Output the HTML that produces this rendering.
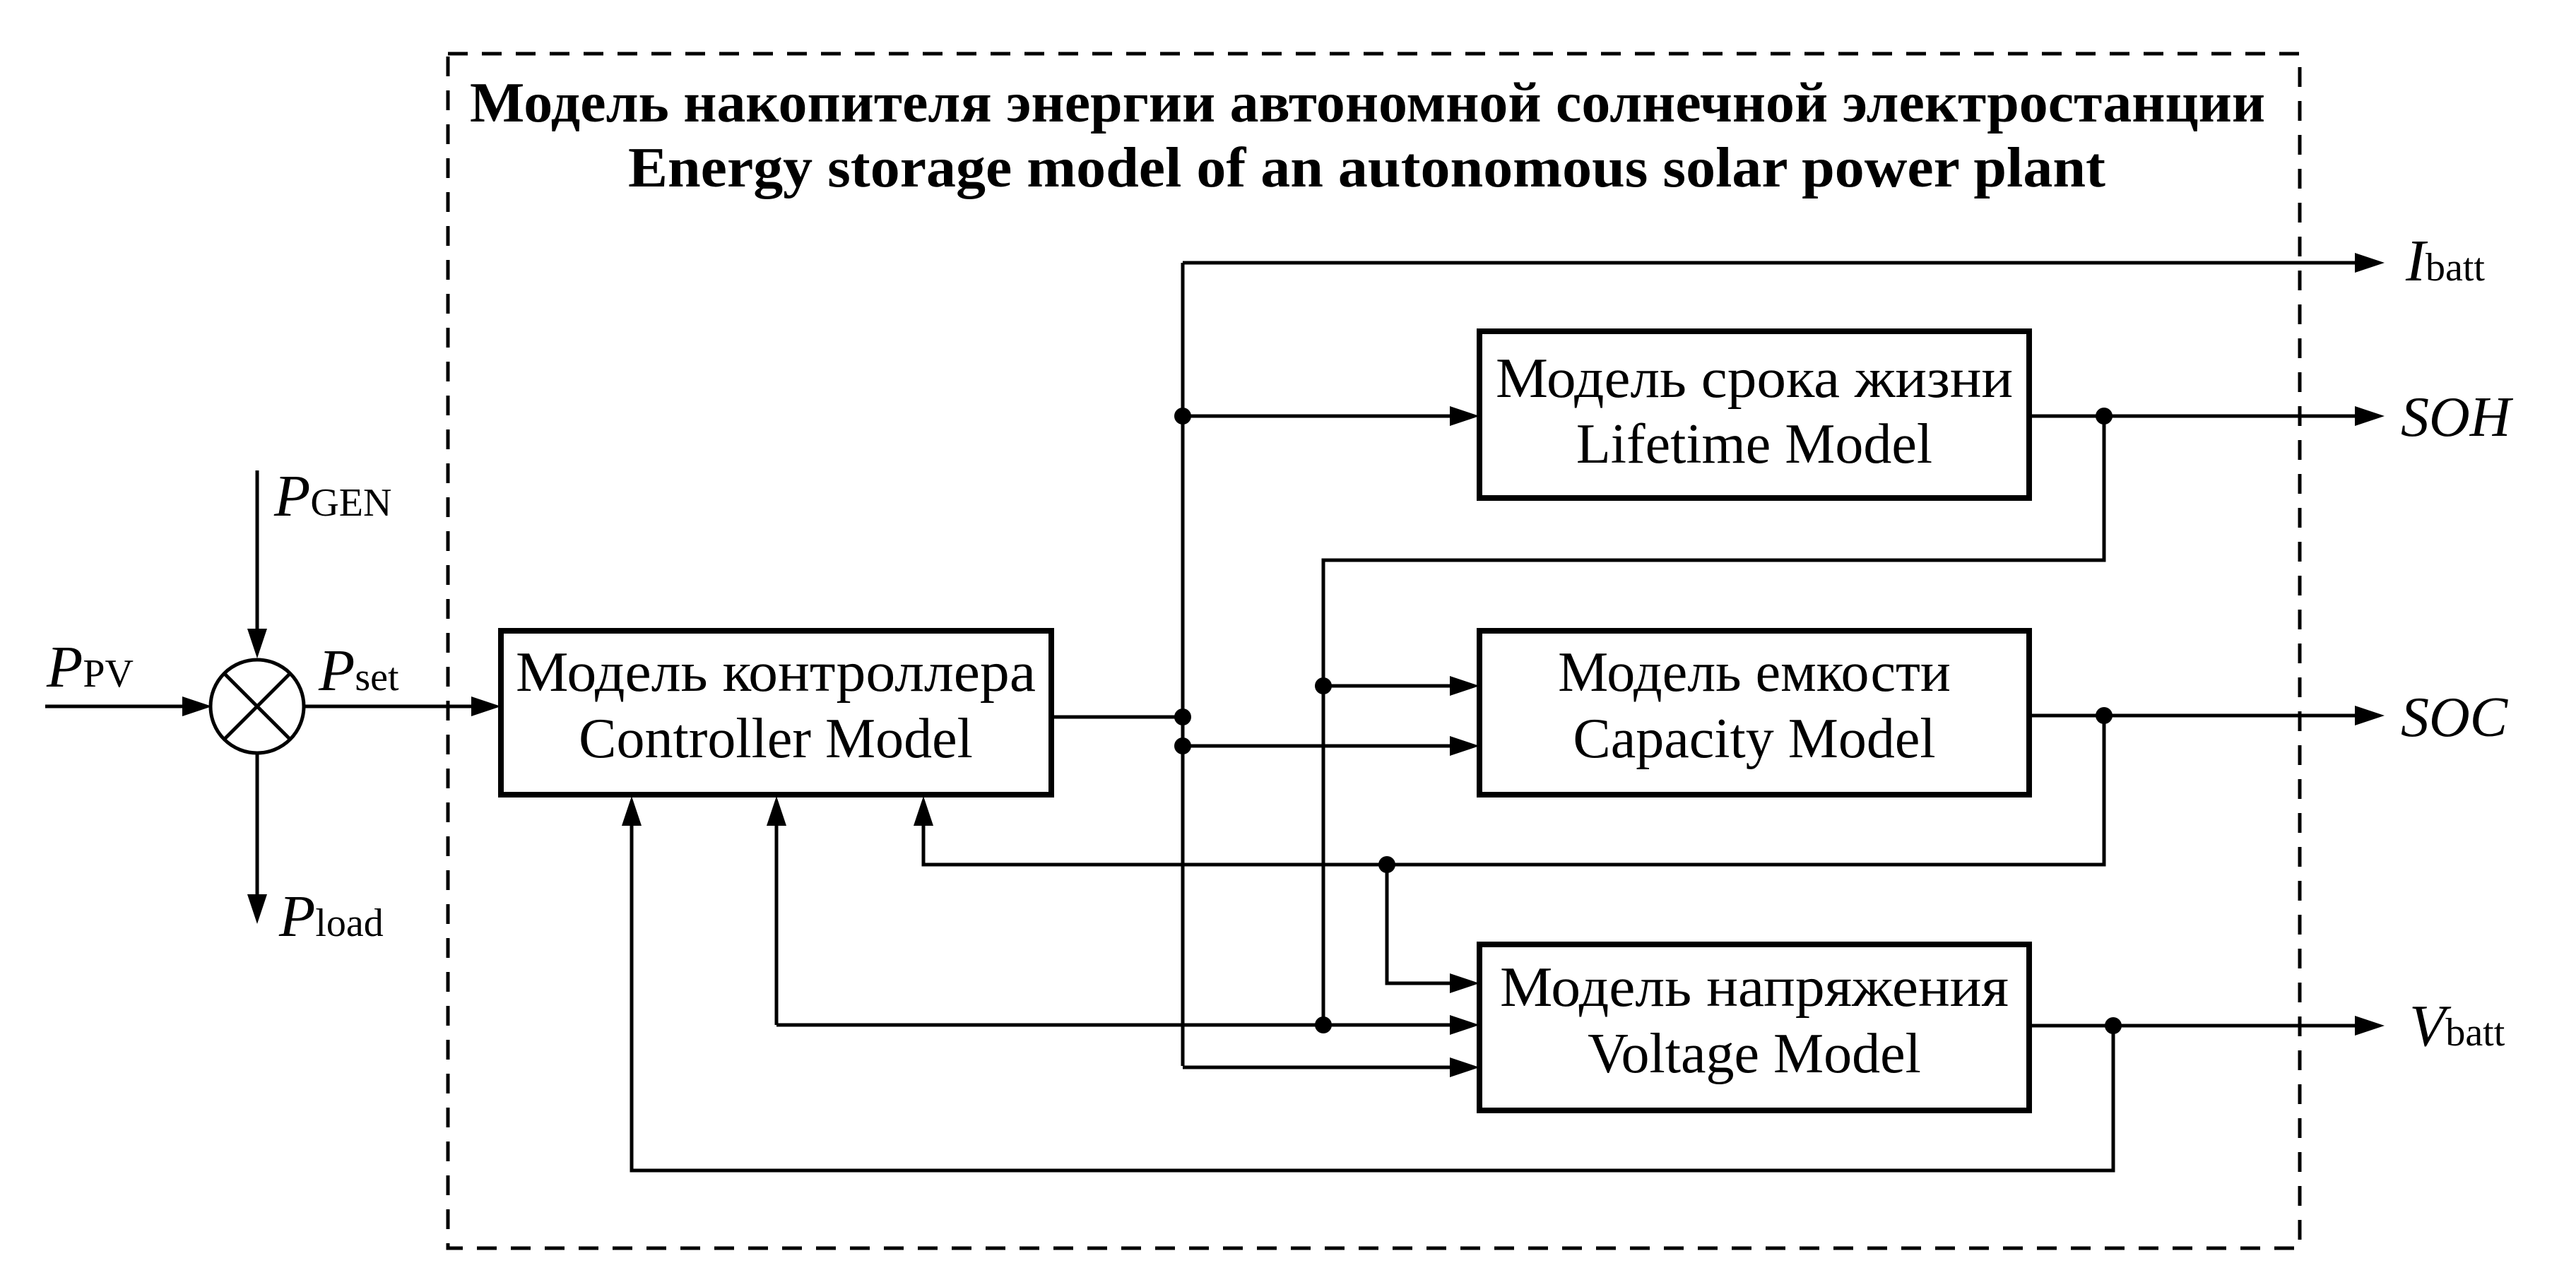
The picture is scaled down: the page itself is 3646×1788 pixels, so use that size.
<!DOCTYPE html>
<html><head><meta charset="utf-8"><style>
html,body{margin:0;padding:0;background:#fff;}
svg{display:block;}
text{font-family:"Liberation Serif","DejaVu Serif",serif;fill:#000;}
</style></head><body>
<svg width="3646" height="1788" viewBox="0 0 3646 1788" xmlns="http://www.w3.org/2000/svg">
<!-- dashed boundary -->
<rect x="634" y="76" width="2621" height="1691" fill="none" stroke="#000" stroke-width="5" stroke-dasharray="28,20"/>
<!-- title -->
<text x="665" y="172" font-size="80" font-weight="bold" textLength="2541" lengthAdjust="spacingAndGlyphs">Модель накопителя энергии автономной солнечной электростанции</text>
<text x="889" y="264" font-size="80" font-weight="bold" textLength="2091" lengthAdjust="spacingAndGlyphs">Energy storage model of an autonomous solar power plant</text>

<g stroke="#000" stroke-width="5" fill="none">
<rect x="709" y="893" width="779" height="232" stroke-width="8"/>
<rect x="2094" y="469" width="778" height="236" stroke-width="8"/>
<rect x="2094" y="893" width="778" height="232" stroke-width="8"/>
<rect x="2094" y="1337" width="778" height="235" stroke-width="8"/>
<circle cx="364" cy="1000" r="66"/>
<line x1="317" y1="953" x2="411" y2="1047"/>
<line x1="411" y1="953" x2="317" y2="1047"/>
<line x1="64" y1="1000" x2="260" y2="1000"/>
<line x1="364" y1="666" x2="364" y2="896"/>
<line x1="364" y1="1066" x2="364" y2="1270"/>
<line x1="430" y1="1000" x2="670" y2="1000"/>
<line x1="1674" y1="372" x2="1674" y2="1509"/>
<line x1="1674" y1="372" x2="3340" y2="372"/>
<line x1="1674" y1="589" x2="2060" y2="589"/>
<line x1="1488" y1="1015" x2="1674" y2="1015"/>
<line x1="1674" y1="1056" x2="2060" y2="1056"/>
<line x1="1674" y1="1511" x2="2060" y2="1511"/>
<line x1="2872" y1="589" x2="3340" y2="589"/>
<polyline points="2978,589 2978,793 1873,793 1873,1451"/>
<line x1="1873" y1="971" x2="2060" y2="971"/>
<line x1="1099" y1="1451" x2="2060" y2="1451"/>
<line x1="1099" y1="1451" x2="1099" y2="1162"/>
<line x1="2872" y1="1013" x2="3340" y2="1013"/>
<polyline points="2978,1013 2978,1224 1307,1224 1307,1162"/>
<polyline points="1963,1224 1963,1392 2060,1392"/>
<line x1="2872" y1="1452" x2="3340" y2="1452"/>
<polyline points="2991,1452 2991,1657 894,1657 894,1162"/>
</g>
<g fill="#000">
<polygon points="300,1000 258,986 258,1014"/>
<polygon points="364,932 350,890 378,890"/>
<polygon points="364,1308 350,1266 378,1266"/>
<polygon points="709,1000 667,986 667,1014"/>
<polygon points="3375,372 3333,358 3333,386"/>
<polygon points="3375,589 3333,575 3333,603"/>
<polygon points="3375,1013 3333,999 3333,1027"/>
<polygon points="3375,1452 3333,1438 3333,1466"/>
<polygon points="2094,589 2052,575 2052,603"/>
<polygon points="2094,971 2052,957 2052,985"/>
<polygon points="2094,1056 2052,1042 2052,1070"/>
<polygon points="2094,1392 2052,1378 2052,1406"/>
<polygon points="2094,1451 2052,1437 2052,1465"/>
<polygon points="2094,1511 2052,1497 2052,1525"/>
<polygon points="894,1127 880,1169 908,1169"/>
<polygon points="1099,1127 1085,1169 1113,1169"/>
<polygon points="1307,1127 1293,1169 1321,1169"/>
<circle cx="1674" cy="589" r="12"/>
<circle cx="1674" cy="1015" r="12"/>
<circle cx="1674" cy="1056" r="12"/>
<circle cx="2978" cy="589" r="12"/>
<circle cx="2978" cy="1013" r="12"/>
<circle cx="2991" cy="1452" r="12"/>
<circle cx="1873" cy="971" r="12"/>
<circle cx="1873" cy="1451" r="12"/>
<circle cx="1963" cy="1224" r="12"/>
</g>
<g font-size="80" text-anchor="middle">
<text x="1098" y="978" textLength="736" lengthAdjust="spacingAndGlyphs">Модель контроллера</text>
<text x="1098" y="1072">Controller Model</text>
<text x="2483" y="562" textLength="732" lengthAdjust="spacingAndGlyphs">Модель срока жизни</text>
<text x="2483" y="655">Lifetime Model</text>
<text x="2483" y="978">Модель емкости</text>
<text x="2483" y="1072">Capacity Model</text>
<text x="2483" y="1424" textLength="720" lengthAdjust="spacingAndGlyphs">Модель напряжения</text>
<text x="2483" y="1518">Voltage Model</text>
</g>
<g font-size="84">
<text x="66" y="972"><tspan font-style="italic">P</tspan><tspan font-size="56">PV</tspan></text>
<text x="388" y="730"><tspan font-style="italic">P</tspan><tspan font-size="56">GEN</tspan></text>
<text x="451" y="977"><tspan font-style="italic">P</tspan><tspan font-size="56">set</tspan></text>
<text x="395" y="1325"><tspan font-style="italic">P</tspan><tspan font-size="56">load</tspan></text>
<text x="3405" y="397"><tspan font-style="italic">I</tspan><tspan font-size="56">batt</tspan></text>
<text x="3398" y="617" font-style="italic" font-size="80">SOH</text>
<text x="3398" y="1042" font-style="italic" font-size="80">SOC</text>
<text x="3410" y="1480"><tspan font-style="italic">V</tspan><tspan font-size="56">batt</tspan></text>
</g>
</svg>
</body></html>
